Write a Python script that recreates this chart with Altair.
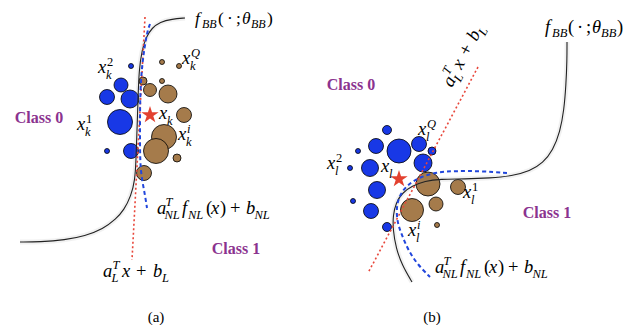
import math
import altair as alt
import pandas as pd

# ---------------- data (pixel units) ----------------
# panel (a): circles -> centre x, centre y, diameter
blue_a_x = [131, 121, 107, 130, 120, 107, 131]
blue_a_y = [66, 85, 97, 99, 122, 151, 151]
blue_a_d = [5, 14, 15, 18, 25, 5, 15]
brown_a_x = [162, 179, 143, 162, 150, 168, 184, 164, 156, 177, 144]
brown_a_y = [62, 66, 81, 81, 90, 94, 115, 137, 151, 158, 173]
brown_a_d = [5, 5, 8, 5, 13, 18, 15, 25, 25, 8, 15]
# panel (b)
blue_b_x = [387, 358, 376, 399, 419, 432, 350, 370, 423, 377, 353, 371, 387]
blue_b_y = [130, 151, 146, 151, 144, 151, 168, 168, 163, 190, 201, 211, 227]
blue_b_d = [9, 5, 15, 24, 15, 8, 5, 17, 18, 17, 5, 15, 9]
brown_b_x = [428, 458, 412, 436, 437]
brown_b_y = [184, 187, 210, 204, 225]
brown_b_d = [24, 15, 23, 14, 5]
# query points (stars)
star_x = [150, 399]
star_y = [115, 179]

# black-box decision boundary f_BB
bb_a_x = [185, 172, 160, 152, 146, 142, 139, 138, 137, 136, 135, 131, 124, 116, 103, 85, 65, 40, 20]
bb_a_y = [18, 19, 22, 28, 37, 50, 70, 100, 130, 160, 180, 196, 210, 219, 229, 236, 240, 242, 242]
bb_b_x = [567, 567, 566, 564, 560, 553, 543, 530, 512, 490, 465, 440, 425, 412, 402, 396, 393, 393, 396, 402, 412]
bb_b_y = [42, 60, 85, 110, 132, 150, 163, 171, 176, 178, 179, 179, 181, 186, 193, 203, 215, 230, 248, 265, 282]
# linear surrogate a_L^T x + b_L
lin_a_x = [145, 132]
lin_a_y = [17, 260]
lin_b_x = [478, 368]
lin_b_y = [67, 273]
# non-linear surrogate
nl_a_x = [150, 147, 142, 140, 140, 140, 142, 145, 147]
nl_a_y = [24, 32, 63, 97, 130, 163, 180, 195, 208]
nl_b_x = [507, 480, 455, 437, 420, 407, 399, 396, 398, 402, 408, 418, 430]
nl_b_y = [173, 171, 171, 172, 177, 185, 196, 210, 225, 235, 250, 265, 277]

# ---------------- tables ----------------
circles = pd.concat([
    pd.DataFrame({"x": blue_a_x, "y": blue_a_y, "d": blue_a_d, "c": "0"}),
    pd.DataFrame({"x": brown_a_x, "y": brown_a_y, "d": brown_a_d, "c": "1"}),
    pd.DataFrame({"x": blue_b_x, "y": blue_b_y, "d": blue_b_d, "c": "0"}),
    pd.DataFrame({"x": brown_b_x, "y": brown_b_y, "d": brown_b_d, "c": "1"}),
], ignore_index=True)
circles["s"] = circles["d"] ** 2


def curve(xs, ys, g):
    return pd.DataFrame({"x": xs, "y": ys, "i": range(len(xs)), "g": g})


bb = pd.concat([curve(bb_a_x, bb_a_y, "a"), curve(bb_b_x, bb_b_y, "b")], ignore_index=True)
lin = pd.concat([curve(lin_a_x, lin_a_y, "a"), curve(lin_b_x, lin_b_y, "b")], ignore_index=True)
nl = pd.concat([curve(nl_a_x, nl_a_y, "a"), curve(nl_b_x, nl_b_y, "b")], ignore_index=True)
stars = pd.DataFrame({"x": star_x, "y": star_y})

M, S = 18.5, 12.5
texts = []


def put(x, y, t, kind="i", sz=M):
    texts.append({"x": x, "y": y, "t": t, "sz": sz, "k": kind})


def fbb(x0, y0, m=M, s=S):
    put(x0, y0, "f", sz=m)
    put(x0 + 7, y0 + 4, "BB", sz=s)
    put(x0 + 23, y0, "(", "r", m)
    put(x0 + 32, y0, "·", "r", m)
    put(x0 + 41, y0, ";", "r", m)
    put(x0 + 47, y0, "θ", sz=m)
    put(x0 + 56, y0 + 4, "BB", sz=s)
    put(x0 + 72, y0, ")", "r", m)


def anl(x0, y0):
    put(x0, y0, "a")
    put(x0 + 8.5, y0 - 8.5, "T", sz=S)
    put(x0 + 7.5, y0 + 5, "NL", sz=S)
    put(x0 + 25, y0, "f")
    put(x0 + 31, y0 + 5, "NL", sz=S)
    put(x0 + 49, y0, "(", "r")
    put(x0 + 54, y0, "x")
    put(x0 + 63, y0, ")", "r")
    put(x0 + 73, y0, "+", "r")
    put(x0 + 89, y0, "b")
    put(x0 + 97.5, y0 + 5, "NL", sz=S)


def xlab(x0, y0, sub, sup=None, supkind="i"):
    put(x0, y0, "x")
    if sup is not None:
        put(x0 + 9, y0 - 7.5, sup, supkind, S)
    put(x0 + 8, y0 + 6, sub, sz=S)


# panel (a)
fbb(195, 24, 17.5, 12)
xlab(98, 73, "k", "2", "r")
xlab(182, 64, "k", "Q")
xlab(159, 119, "k")
xlab(77, 130, "k", "1", "r")
xlab(178, 140, "k", "i")
anl(157, 214)
put(103, 277, "a"); put(112.5, 268.5, "T", sz=S); put(111.5, 282, "L", sz=S)
put(122, 277, "x"); put(136, 277, "+", "r"); put(153, 277, "b"); put(162, 282, "L", sz=S)
put(39, 123, "Class 0", "b", 16)
put(236, 254, "Class 1", "b", 16)
put(156, 322, "(a)", "c", 15)

# panel (b)
fbb(545, 33)
xlab(418, 135, "l", "Q")
xlab(327, 169, "l", "2", "r")
xlab(381, 172, "l")
xlab(463, 198, "l", "1", "r")
xlab(408, 236, "l", "i")
anl(435, 273)
put(351, 90, "Class 0", "b", 16)
put(547, 218, "Class 1", "b", 16)
put(432, 322, "(b)", "c", 15)

# rotated label along the linear boundary of panel (b)
ANG = 298
ux, uy = math.cos(math.radians(ANG)), math.sin(math.radians(ANG))
vx, vy = -uy, ux
ox, oy = 452, 88
for dx, dy, t, k, sz in [(0, 0, "a", "ri", M), (9.5, -8.5, "T", "ri", S), (8.5, 5, "L", "ri", S),
                         (20, 0, "x", "ri", M), (35, 0, "+", "rr", M), (52, 0, "b", "ri", M),
                         (61, 5, "L", "ri", S)]:
    put(ox + dx * ux + dy * vx, oy + dx * uy + dy * vy, t, k, sz)

tx = pd.DataFrame(texts)

# ---------------- chart ----------------
X = alt.X("x:Q", scale=alt.Scale(domain=[8, 627], nice=False, zero=False), axis=None)
Y = alt.Y("y:Q", scale=alt.Scale(domain=[8, 325], reverse=True, nice=False, zero=False), axis=None)

circ = alt.Chart(circles).mark_circle(stroke="black", strokeWidth=0.8, opacity=1).encode(
    x=X, y=Y,
    color=alt.Color("c:N", scale=alt.Scale(domain=["0", "1"], range=["#1838e6", "#a57b4b"]), legend=None),
    size=alt.Size("s:Q", scale=None, legend=None),
)

shadow = alt.Chart(bb).mark_line(interpolate="basis", color="#888", strokeWidth=5, opacity=0.12).encode(
    x=X, y=Y, detail="g:N", order="i:Q")
bline = alt.Chart(bb).mark_line(interpolate="basis", color="#222", strokeWidth=1.1).encode(
    x=X, y=Y, detail="g:N", order="i:Q")
rline = alt.Chart(lin).mark_line(color="#e8463a", strokeWidth=1.6, strokeDash=[2, 2.5]).encode(
    x=X, y=Y, detail="g:N", order="i:Q")
nline = alt.Chart(nl).mark_line(interpolate="basis", color="#2146dc", strokeWidth=2, strokeDash=[4, 3]).encode(
    x=X, y=Y, detail="g:N", order="i:Q")

STAR = ("M0,-1L0.225,-0.309L0.951,-0.309L0.363,0.118L0.588,0.809L0,0.382"
        "L-0.588,0.809L-0.363,0.118L-0.951,-0.309L-0.225,-0.309Z")
star = alt.Chart(stars).mark_point(shape=STAR, filled=True, size=330, opacity=1).encode(
    x=X, y=Y, color=alt.value("#e3412f"))

FONT = "'Liberation Serif', 'DejaVu Serif', serif"


def tlayer(kind, **kw):
    return alt.Chart(tx).transform_filter(alt.datum.k == kind).mark_text(
        baseline="alphabetic", font=FONT, **kw).encode(
        x=X, y=Y, text="t:N", size=alt.Size("sz:Q", scale=None, legend=None))


t_i = tlayer("i", align="left", fontStyle="italic", color="black")
t_r = tlayer("r", align="left", color="black")
t_b = tlayer("b", align="center", fontWeight="bold", color="#8b338f")
t_c = tlayer("c", align="center", color="black")
t_ri = tlayer("ri", align="left", fontStyle="italic", color="black", angle=ANG)
t_rr = tlayer("rr", align="left", color="black", angle=ANG)

chart = alt.layer(circ, shadow, bline, rline, nline, star, t_i, t_r, t_b, t_c, t_ri, t_rr).properties(
    width=619, height=317, padding=0, autosize="none"
).configure_view(stroke=None)

chart.save("out.html", embed_options={"renderer": "svg", "actions": False})
